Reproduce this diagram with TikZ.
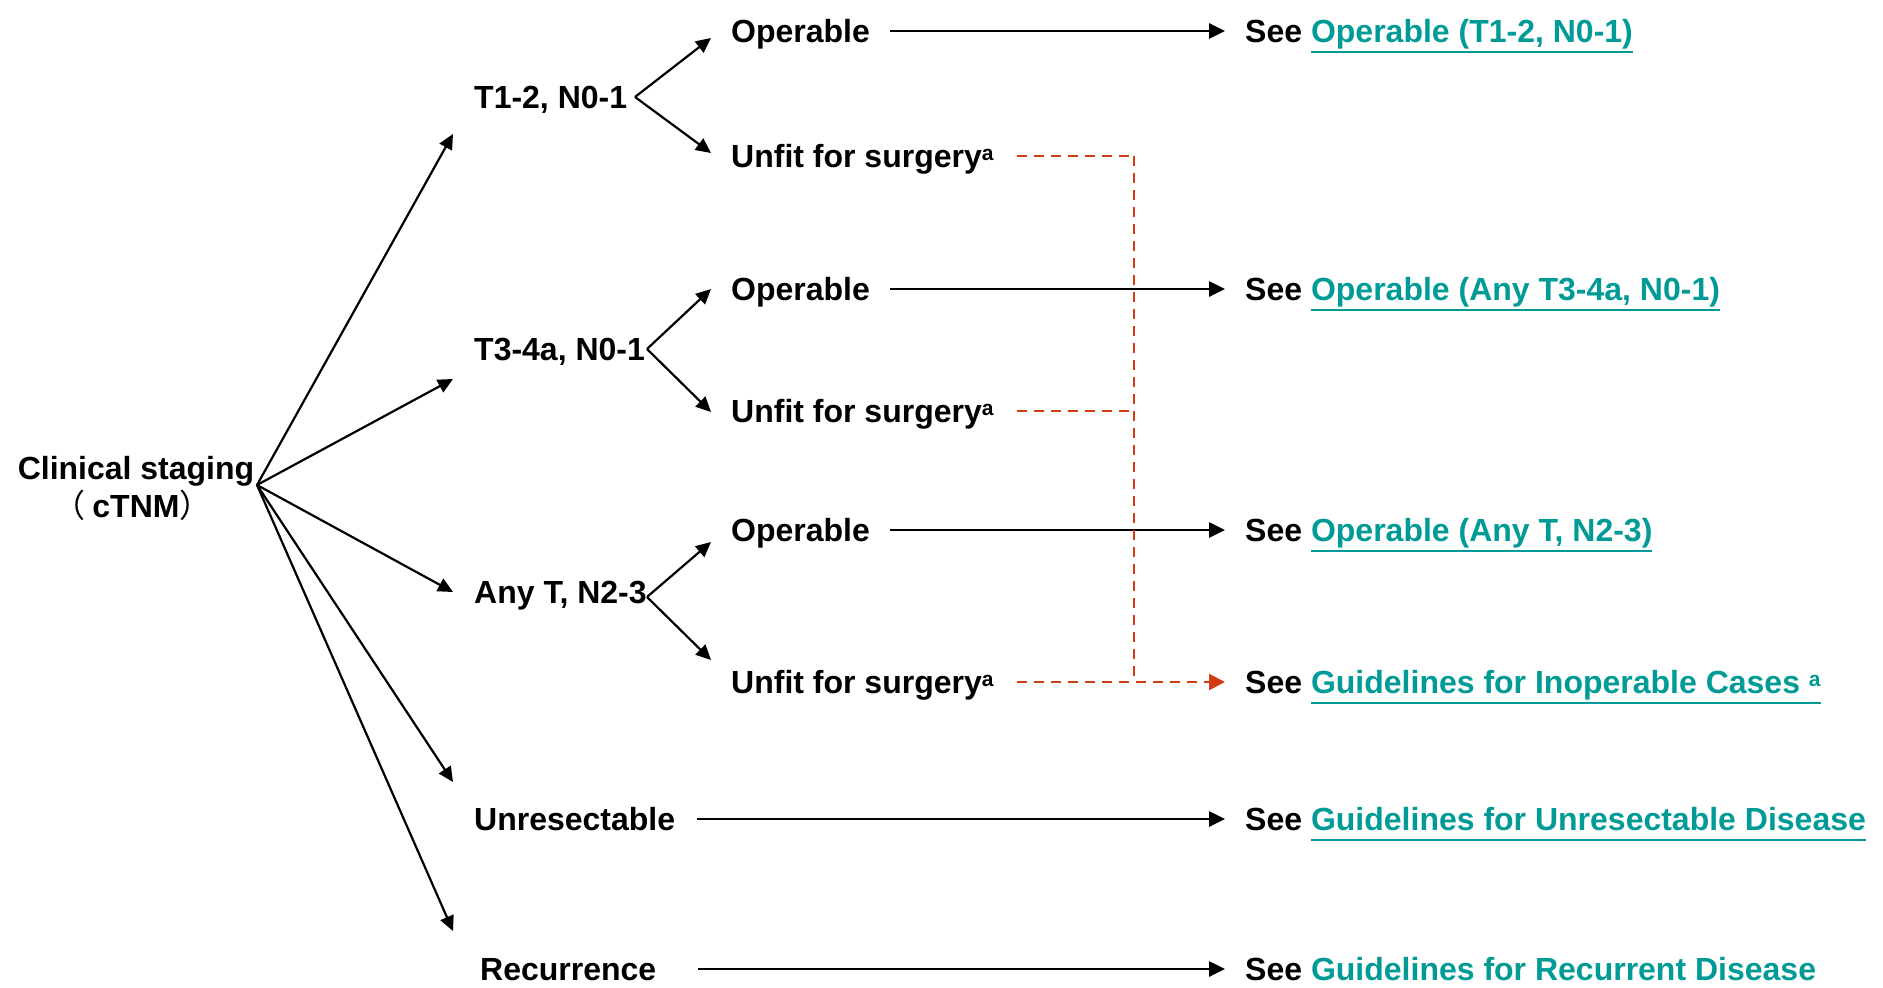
\documentclass[tikz,border=0pt]{standalone}
\usepackage{fontspec}
\setmainfont{Liberation Sans}
\newfontfamily\cjk{Noto Sans CJK SC}
\usetikzlibrary{arrows.meta}

\definecolor{linkteal}{RGB}{0,155,150}
\definecolor{dashred}{RGB}{210,60,20}

% underlined cross-reference in teal
\newsavebox\lnkbox
\newcommand\lnk[1]{\sbox\lnkbox{\color{linkteal}#1}%
  \rlap{\color{linkteal}\rule[-10pt]{\wd\lnkbox}{1.8pt}}\usebox\lnkbox}
% footnote mark
\newcommand\supa{\raisebox{7pt}{\fontsize{21}{21}\selectfont a}}

\tikzset{
  lbl/.style={anchor=west, inner sep=0pt, text height=23pt, text depth=0pt,
              font=\bfseries\fontsize{32}{38}\selectfont},
  flow/.style={-{Triangle[length=15pt,width=14pt]}, line width=2.2pt},
  route/.style={-{Triangle[length=16pt,width=15pt]}, line width=2.6pt},
  redash/.style={draw=dashred, line width=2.4pt, dash pattern=on 10pt off 7pt},
  redtip/.style={-{Triangle[length=16pt,width=16pt,fill=dashred]}},
}

\begin{document}
\begin{tikzpicture}[x=1pt,y=-1pt]
\useasboundingbox (0,0) rectangle (1883,988);

% root
\node[inner sep=0pt, align=center, anchor=north, font=\bfseries\fontsize{32}{38}\selectfont]
  (clin) at (136,456.5)
  {Clinical staging\\{\cjk\mdseries\kern-7pt （\kern7pt}cTNM{\cjk\mdseries ）}};
\coordinate (hub) at (257,485);

% staging groups
\node[lbl] (t12) at (474,97)  {T1-2, N0-1};
\node[lbl] (t34) at (474,349) {T3-4a, N0-1};
\node[lbl] (tany) at (474,592) {Any T, N2-3};
\node[lbl] (unres) at (474,819) {Unresectable};
\node[lbl] (recur) at (480,969) {Recurrence};

\coordinate (t12in)  at (453,134);
\coordinate (t34in)  at (453,379);
\coordinate (tanyin) at (453,592);
\coordinate (unresin) at (453,782);
\coordinate (recurin) at (453,931);

% operability
\node[lbl] (op1) at (731,31)  {Operable};
\node[lbl] (uf1) at (731,156) {Unfit for surgery\supa};
\node[lbl] (op2) at (731,289) {Operable};
\node[lbl] (uf2) at (731,411) {Unfit for surgery\supa};
\node[lbl] (op3) at (731,530) {Operable};
\node[lbl] (uf3) at (731,682) {Unfit for surgery\supa};

\coordinate (f12)  at (635,97);
\coordinate (f34)  at (647,349);
\coordinate (fany) at (647,597);
\coordinate (op1in) at (711,38);
\coordinate (uf1in) at (711,153);
\coordinate (op2in) at (711,289);
\coordinate (uf2in) at (711,412);
\coordinate (op3in) at (711,542);
\coordinate (uf3in) at (711,660);

% references
\node[lbl] (see1) at (1245,31)  {See \lnk{Operable (T1-2, N0-1)}};
\node[lbl] (see2) at (1245,289) {See \lnk{Operable (Any T3-4a, N0-1)}};
\node[lbl] (see3) at (1245,530) {See \lnk{Operable (Any T, N2-3)}};
\node[lbl] (see4) at (1245,682) {See \lnk{Guidelines for Inoperable Cases \supa}};
\node[lbl] (see5) at (1245,819) {See \lnk{Guidelines for Unresectable Disease}};
\node[lbl] (see6) at (1245,969) {See \lnk{Guidelines for Recurrent Disease}};

% fan-out from clinical staging
\draw[flow] (hub) -- (t12in);
\draw[flow] (hub) -- (t34in);
\draw[flow] (hub) -- (tanyin);
\draw[flow] (hub) -- (unresin);
\draw[flow] (hub) -- (recurin);

% forks
\draw[flow] (f12) -- (op1in);
\draw[flow] (f12) -- (uf1in);
\draw[flow] (f34) -- (op2in);
\draw[flow] (f34) -- (uf2in);
\draw[flow] (fany) -- (op3in);
\draw[flow] (fany) -- (uf3in);

% direct routes
\draw[route, shorten <=20pt, shorten >=20pt] (op1) -- (see1);
\draw[route, shorten <=20pt, shorten >=20pt] (op2) -- (see2);
\draw[route, shorten <=20pt, shorten >=20pt] (op3) -- (see3);
\draw[route, shorten <=22pt, shorten >=20pt] (unres) -- (see5);
\draw[route, shorten <=41pt, shorten >=20pt] (recur) -- (see6);

% unfit cases merge into the inoperable guideline
\coordinate (bus1) at (1134,156);
\coordinate (bus2) at (1134,411);
\coordinate (bus3) at (1134,682);
\draw[redash, shorten <=23pt] (uf1.east) -- (bus1);
\draw[redash, shorten <=23pt] (uf2.east) -- (bus2);
\draw[redash] (bus1) -- (bus3);
\draw[redash, redtip, shorten <=23pt, shorten >=20pt] (uf3) -- (see4);
\end{tikzpicture}
\end{document}
